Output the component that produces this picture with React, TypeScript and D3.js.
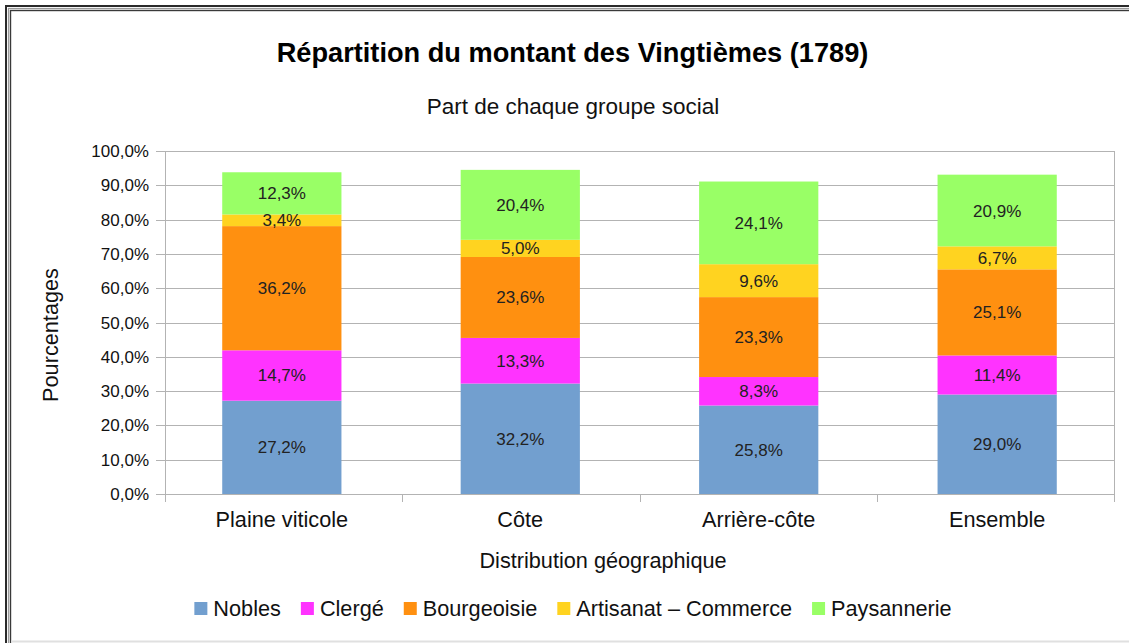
import React, { useEffect, useRef } from "react";
import * as d3 from "d3";

const categories = ["Plaine viticole", "Côte", "Arrière-côte", "Ensemble"];
const seriesNames = ["Nobles", "Clergé", "Bourgeoisie", "Artisanat – Commerce", "Paysannerie"];
const seriesColors = ["#729fcf", "#ff33ff", "#ff9010", "#ffd320", "#99ff66"];
const nobles = [27.2, 32.2, 25.8, 29.0];
const clerge = [14.7, 13.3, 8.3, 11.4];
const bourgeoisie = [36.2, 23.6, 23.3, 25.1];
const artisanat = [3.4, 5.0, 9.6, 6.7];
const paysannerie = [12.3, 20.4, 24.1, 20.9];
const yTicks = [0, 10, 20, 30, 40, 50, 60, 70, 80, 90, 100];

const W = 1129;
const H = 643;
const FONT = "'Liberation Sans', Arial, sans-serif";
const fmt = (v: number) => v.toFixed(1).replace(".", ",") + "%";

export default function App() {
  const ref = useRef<SVGSVGElement | null>(null);

  useEffect(() => {
    const svg = d3.select(ref.current);
    svg.selectAll("*").remove();

    const plot = { left: 165, right: 1114, top: 151, bottom: 494 };
    const x = d3
      .scaleBand<string>()
      .domain(categories)
      .range([plot.left, plot.right])
      .paddingInner(0.5)
      .paddingOuter(0.24);
    const y = d3.scaleLinear().domain([0, 100]).range([plot.bottom, plot.top]);

    svg.append("rect").attr("width", W).attr("height", H).attr("fill", "#fff");

    // frame
    const fr = svg.append("g");
    fr.append("rect").attr("x", 6).attr("y", 6).attr("width", W + 20).attr("height", H + 20).attr("fill", "none").attr("stroke", "#2a2a2a").attr("stroke-width", 2);
    fr.append("rect").attr("x", 8.5).attr("y", 8.5).attr("width", W + 20).attr("height", H + 20).attr("fill", "none").attr("stroke", "#9a9a9a").attr("stroke-width", 1.2);
    fr.append("rect").attr("x", 10.5).attr("y", 10.5).attr("width", W + 20).attr("height", H + 20).attr("fill", "none").attr("stroke", "#3a3a3a").attr("stroke-width", 1.4);
    fr.append("line").attr("x1", 11).attr("x2", W).attr("y1", 641.5).attr("y2", 641.5).attr("stroke", "#e0e0e0").attr("stroke-width", 2);

    // title
    svg.append("text").attr("x", 572.5).attr("y", 62).attr("text-anchor", "middle")
      .attr("font-family", FONT).attr("font-weight", "bold").attr("font-size", 27.2).attr("fill", "#000")
      .text("Répartition du montant des Vingtièmes (1789)");
    svg.append("text").attr("x", 573).attr("y", 114).attr("text-anchor", "middle")
      .attr("font-family", FONT).attr("font-size", 22.5).attr("fill", "#111")
      .text("Part de chaque groupe social");

    // grid
    const grid = svg.append("g");
    yTicks.forEach((t) => {
      grid.append("line").attr("x1", plot.left - 9).attr("x2", plot.right)
        .attr("y1", Math.round(y(t)) + 0.5).attr("y2", Math.round(y(t)) + 0.5)
        .attr("stroke", "#b3b3b3").attr("stroke-width", 1);
      grid.append("text").attr("x", 149).attr("y", y(t) + 6).attr("text-anchor", "end")
        .attr("font-family", FONT).attr("font-size", 17).attr("fill", "#111")
        .text(fmt(t));
    });
    grid.append("line").attr("x1", plot.left + 0.5).attr("x2", plot.left + 0.5).attr("y1", plot.top).attr("y2", plot.bottom + 8).attr("stroke", "#b3b3b3");
    grid.append("line").attr("x1", plot.right + 0.5).attr("x2", plot.right + 0.5).attr("y1", plot.top).attr("y2", plot.bottom + 8).attr("stroke", "#b3b3b3");
    for (let i = 1; i < categories.length; i++) {
      const bx = Math.round(plot.left + i * (plot.right - plot.left) / categories.length) + 0.5;
      grid.append("line").attr("x1", bx).attr("x2", bx).attr("y1", plot.bottom).attr("y2", plot.bottom + 8).attr("stroke", "#b3b3b3");
    }

    // bars
    const seriesData = [nobles, clerge, bourgeoisie, artisanat, paysannerie];
    const table = categories.map((c, i) => {
      const row: any = { cat: c };
      seriesNames.forEach((s, j) => (row[s] = seriesData[j][i]));
      return row;
    });
    const stack = d3.stack<any>().keys(seriesNames)(table);
    const bars = svg.append("g");
    stack.forEach((layer, j) => {
      layer.forEach((d: any) => {
        const cx = x(d.data.cat)!;
        bars.append("rect").attr("x", cx).attr("width", x.bandwidth())
          .attr("y", y(d[1])).attr("height", y(d[0]) - y(d[1]))
          .attr("fill", seriesColors[j]);
      });
    });
    stack.forEach((layer) => {
      layer.forEach((d: any) => {
        const cx = x(d.data.cat)! + x.bandwidth() / 2;
        bars.append("text").attr("x", cx).attr("y", (y(d[0]) + y(d[1])) / 2 + 6)
          .attr("text-anchor", "middle").attr("font-family", FONT).attr("font-size", 17).attr("fill", "#222")
          .text(fmt(d[1] - d[0]));
      });
    });

    // category labels
    categories.forEach((c) => {
      svg.append("text").attr("x", x(c)! + x.bandwidth() / 2).attr("y", 527).attr("text-anchor", "middle")
        .attr("font-family", FONT).attr("font-size", 21.7).attr("fill", "#111").text(c);
    });

    // axis titles
    svg.append("text").attr("x", 603).attr("y", 568).attr("text-anchor", "middle")
      .attr("font-family", FONT).attr("font-size", 21.7).attr("fill", "#111").text("Distribution géographique");
    svg.append("text").attr("transform", "translate(58,335) rotate(-90)").attr("text-anchor", "middle")
      .attr("font-family", FONT).attr("font-size", 21.7).attr("fill", "#111").text("Pourcentages");

    // legend
    const lg = svg.append("g");
    const sq = 13, gapA = 6, gapB = 20;
    const items = seriesNames.map((s, j) => {
      const g = lg.append("g");
      g.append("rect").attr("width", sq).attr("height", sq).attr("y", -sq - 1).attr("fill", seriesColors[j]);
      const t = g.append("text").attr("x", sq + gapA).attr("y", 0)
        .attr("font-family", FONT).attr("font-size", 21.7).attr("fill", "#111").text(s);
      const w = (t.node() as SVGTextElement).getComputedTextLength();
      return { g, w: sq + gapA + w };
    });
    const total = d3.sum(items, (d) => d.w) + gapB * (items.length - 1);
    let cx = 573 - total / 2;
    items.forEach((it) => {
      it.g.attr("transform", `translate(${cx},616)`);
      cx += it.w + gapB;
    });
  }, []);

  return (
    <svg ref={ref} width={W} height={H} style={{ position: "absolute", left: 0, top: 0, display: "block" }} />
  );
}
